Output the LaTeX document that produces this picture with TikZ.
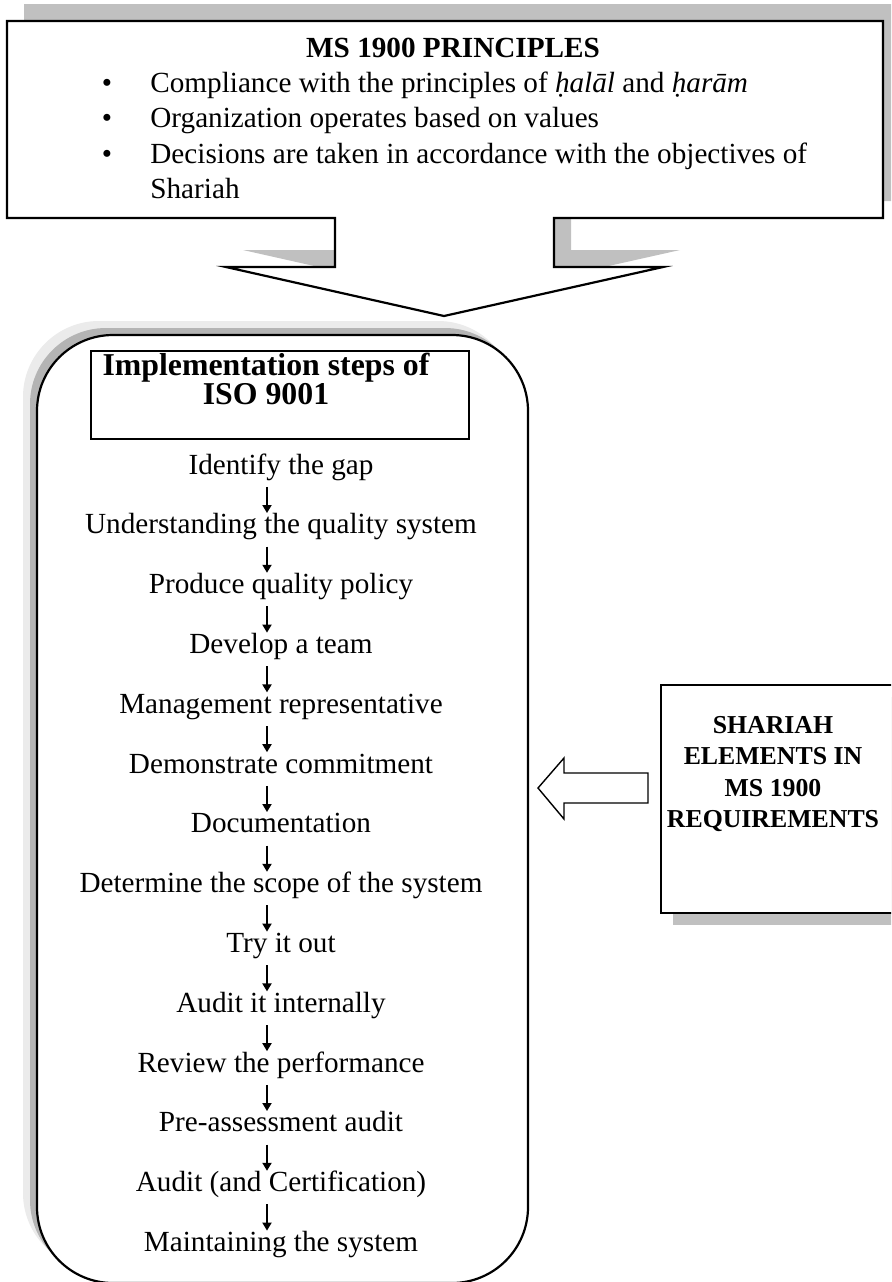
\documentclass[tikz,border=0pt]{standalone}
\usepackage{fontspec}
\setmainfont{Liberation Serif}
\usetikzlibrary{arrows.meta,positioning}
\definecolor{shadowgray}{RGB}{192,192,192}
\definecolor{haloouter}{RGB}{235,235,235}
\definecolor{haloinner}{RGB}{180,180,180}

\begin{document}
\begin{tikzpicture}[x=0.5pt,y=-0.5pt,
    outline/.style={draw=black,line width=1.1pt},
    bodyfont/.style={font=\fontsize{14.6}{17.5}\selectfont},
    boldfont/.style={font=\fontsize{14.6}{17.5}\selectfont\bfseries},
    steptext/.style={bodyfont,inner sep=0pt,text height=10.2pt,text depth=3.7pt},
    steparrow/.style={line width=0.9pt,-{Triangle[length=4pt,width=4.5pt]}},
    node distance=15.6pt]
\useasboundingbox (0,0) rectangle (891,1282);
\clip (0,0) rectangle (891,1282);
\fill[white] (0,0) rectangle (891,1282);

% principles callout
\fill[shadowgray,shift={(17,-17)}] (7,21) -- (883,21) -- (883,218) -- (554,218) -- (554,267) -- (663,267) -- (444,316) -- (226,267) -- (335,267) -- (335,218) -- (7,218) -- cycle;
\filldraw[outline,fill=white] (7,21) -- (883,21) -- (883,218) -- (554,218) -- (554,267) -- (663,267) -- (444,316) -- (226,267) -- (335,267) -- (335,218) -- (7,218) -- cycle;
\node[anchor=base,inner sep=0pt,boldfont] (ptitle) at (453,57) {MS 1900 PRINCIPLES};
\node[anchor=base,inner sep=0pt,bodyfont] (b1) at (107,92) {\textbullet};
\node[anchor=base,inner sep=0pt,bodyfont] (b2) at (107,127.5) {\textbullet};
\node[anchor=base,inner sep=0pt,bodyfont] (b3) at (107,163) {\textbullet};
\node[anchor=base west,inner sep=0pt,bodyfont] (p1) at (150,92) {Compliance with the principles of \textit{ḥalāl} and \textit{ḥarām}};
\node[anchor=base west,inner sep=0pt,bodyfont] (p2) at (150,127.5) {Organization operates based on values};
\node[anchor=base west,inner sep=0pt,bodyfont] (p3) at (150,163) {Decisions are taken in accordance with the objectives of};
\node[anchor=base west,inner sep=0pt,bodyfont] (p4) at (150,198) {Shariah};

% ISO 9001 steps
\fill[haloouter,rounded corners=38pt] (23,321) rectangle (514,1269);
\fill[haloinner,rounded corners=38pt] (30,328) rectangle (521,1276);
\filldraw[outline,fill=white,rounded corners=38pt] (37,335) rectangle (528,1283);
\node[outline,minimum width=189pt,minimum height=44pt,anchor=north west,inner sep=0pt] (headbox) at (90,350) {};
\node[anchor=north,align=center,inner sep=0pt,font=\fontsize{15.9}{14.5}\selectfont\bfseries] (headtext) at (266,353) {Implementation steps of\\ISO 9001};

\node[steptext,anchor=base] (s1) at (281,474) {Identify the gap};
\node[steptext,below=of s1] (s2) {Understanding the quality system};
\node[steptext,below=of s2] (s3) {Produce quality policy};
\node[steptext,below=of s3] (s4) {Develop a team};
\node[steptext,below=of s4] (s5) {Management representative};
\node[steptext,below=of s5] (s6) {Demonstrate commitment};
\node[steptext,below=of s6] (s7) {Documentation};
\node[steptext,below=of s7] (s8) {Determine the scope of the system};
\node[steptext,below=of s8] (s9) {Try it out};
\node[steptext,below=of s9] (s10) {Audit it internally};
\node[steptext,below=of s10] (s11) {Review the performance};
\node[steptext,below=of s11] (s12) {Pre-assessment audit};
\node[steptext,below=of s12] (s13) {Audit (and Certification)};
\node[steptext,below=of s13] (s14) {Maintaining the system};

\draw[steparrow] ([xshift=-7pt,yshift=-2.5pt]s1.south) -- ([xshift=-7pt]s2.north);
\draw[steparrow] ([xshift=-7pt,yshift=-2.5pt]s2.south) -- ([xshift=-7pt]s3.north);
\draw[steparrow] ([xshift=-7pt,yshift=-2.5pt]s3.south) -- ([xshift=-7pt]s4.north);
\draw[steparrow] ([xshift=-7pt,yshift=-2.5pt]s4.south) -- ([xshift=-7pt]s5.north);
\draw[steparrow] ([xshift=-7pt,yshift=-2.5pt]s5.south) -- ([xshift=-7pt]s6.north);
\draw[steparrow] ([xshift=-7pt,yshift=-2.5pt]s6.south) -- ([xshift=-7pt]s7.north);
\draw[steparrow] ([xshift=-7pt,yshift=-2.5pt]s7.south) -- ([xshift=-7pt]s8.north);
\draw[steparrow] ([xshift=-7pt,yshift=-2.5pt]s8.south) -- ([xshift=-7pt]s9.north);
\draw[steparrow] ([xshift=-7pt,yshift=-2.5pt]s9.south) -- ([xshift=-7pt]s10.north);
\draw[steparrow] ([xshift=-7pt,yshift=-2.5pt]s10.south) -- ([xshift=-7pt]s11.north);
\draw[steparrow] ([xshift=-7pt,yshift=-2.5pt]s11.south) -- ([xshift=-7pt]s12.north);
\draw[steparrow] ([xshift=-7pt,yshift=-2.5pt]s12.south) -- ([xshift=-7pt]s13.north);
\draw[steparrow] ([xshift=-7pt,yshift=-2.5pt]s13.south) -- ([xshift=-7pt]s14.north);

% shariah elements
\fill[shadowgray] (673,697) rectangle (918,925);
\node[outline,fill=white,minimum width=122.5pt,minimum height=114pt,anchor=north west,inner sep=0pt] (req) at (660,684) {};
\node[anchor=north,align=center,inner sep=0pt,font=\fontsize{12.9}{15.75}\selectfont\bfseries] (reqtext) at (773,716) {SHARIAH\\ELEMENTS IN\\MS 1900\\REQUIREMENTS};
\draw[line width=0.7pt,fill=white] (538,788) -- (564,758) -- (564,773) -- (648,773) -- (648,803) -- (564,803) -- (564,819) -- cycle;
\end{tikzpicture}
\end{document}
